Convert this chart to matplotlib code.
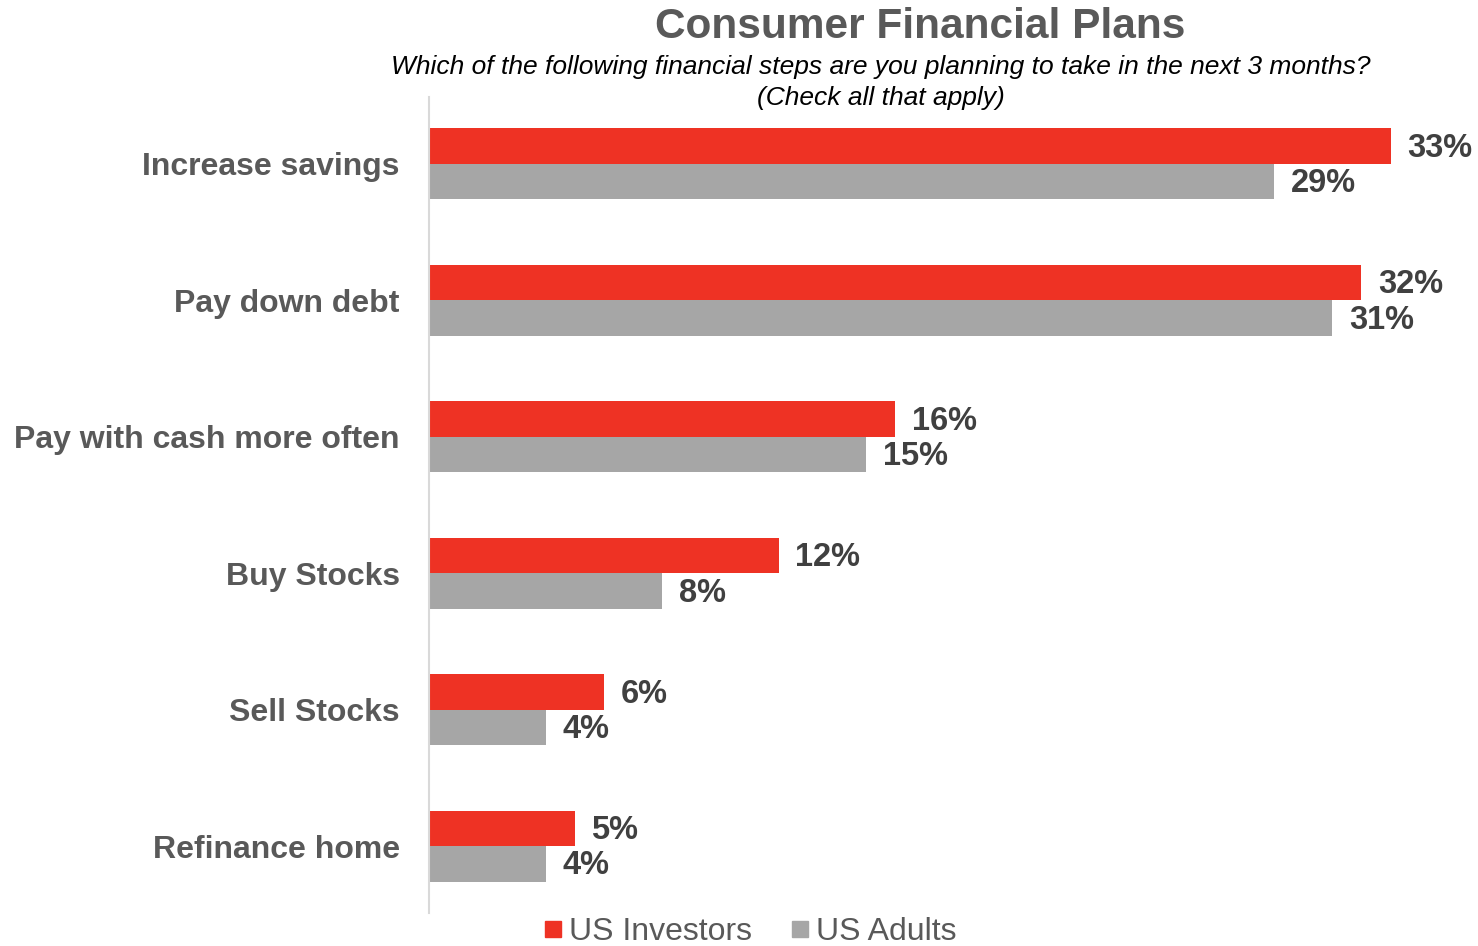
import matplotlib
matplotlib.use("Agg")
import matplotlib.pyplot as plt
from matplotlib.lines import Line2D
import numpy as np

plt.rcParams['font.family'] = ['Liberation Sans', 'DejaVu Sans']

categories = ["Increase savings", "Pay down debt", "Pay with cash more often",
              "Buy Stocks", "Sell Stocks", "Refinance home"]
us_investors = [33, 32, 16, 12, 6, 5]
us_adults = [29, 31, 15, 8, 4, 4]
series_names = ["US Investors", "US Adults"]

RED = "#EE3224"
GRAY = "#A6A6A6"
TEXT_GRAY = "#595959"
VALUE_GRAY = "#404040"

fig = plt.figure(figsize=(14.78, 9.46), dpi=100)
ax = fig.add_axes([429 / 1478, 33 / 946, 1 - 429 / 1478, (913 - 97) / 946])

y = np.arange(len(categories))
h = 0.26
bars_inv = ax.barh(y - h / 2, us_investors, height=h, color=RED)
bars_adt = ax.barh(y + h / 2, us_adults, height=h, color=GRAY)

for bars, vals in ((bars_inv, us_investors), (bars_adt, us_adults)):
    for b, v in zip(bars, vals):
        ax.annotate(f"{v}%", xy=(b.get_width(), b.get_y() + b.get_height() / 2),
                    xytext=(12, -1.5), textcoords="offset points",
                    ha="left", va="center", fontsize=23.5, fontweight="bold",
                    color=VALUE_GRAY)

ax.set_xlim(0, 36)
ax.set_ylim(len(categories) - 0.51, -0.49)
ax.set_yticks(y)
ax.set_yticklabels(categories, fontsize=23, fontweight="bold", color=TEXT_GRAY)
ax.tick_params(axis="y", length=0, pad=21)
ax.set_xticks([])
for s in ("top", "right", "bottom"):
    ax.spines[s].set_visible(False)
ax.spines["left"].set_color("#D9D9D9")
ax.spines["left"].set_linewidth(1.5)

fig.text(920 / 1478, 1 - 27 / 946, "Consumer Financial Plans", ha="center", va="center",
         fontsize=30.5, fontweight="bold", color=TEXT_GRAY)
fig.text(881 / 1478, 1 - 67 / 946,
         "Which of the following financial steps are you planning to take in the next 3 months?",
         ha="center", va="center", fontsize=19, style="italic", color="black")
fig.text(881 / 1478, 1 - 98 / 946, "(Check all that apply)", ha="center", va="center",
         fontsize=19, style="italic", color="black")

handles = [Line2D([], [], marker="s", linestyle="none", markersize=11, color=c)
           for c in (RED, GRAY)]
leg = fig.legend(handles, series_names, loc="center", bbox_to_anchor=(750 / 1478, 1 - 932 / 946),
                 ncol=2, frameon=False, fontsize=23, handlelength=0.6, handletextpad=0.2,
                 columnspacing=1.2, borderpad=0, labelcolor=TEXT_GRAY)

fig.savefig("out.png", dpi=100)
